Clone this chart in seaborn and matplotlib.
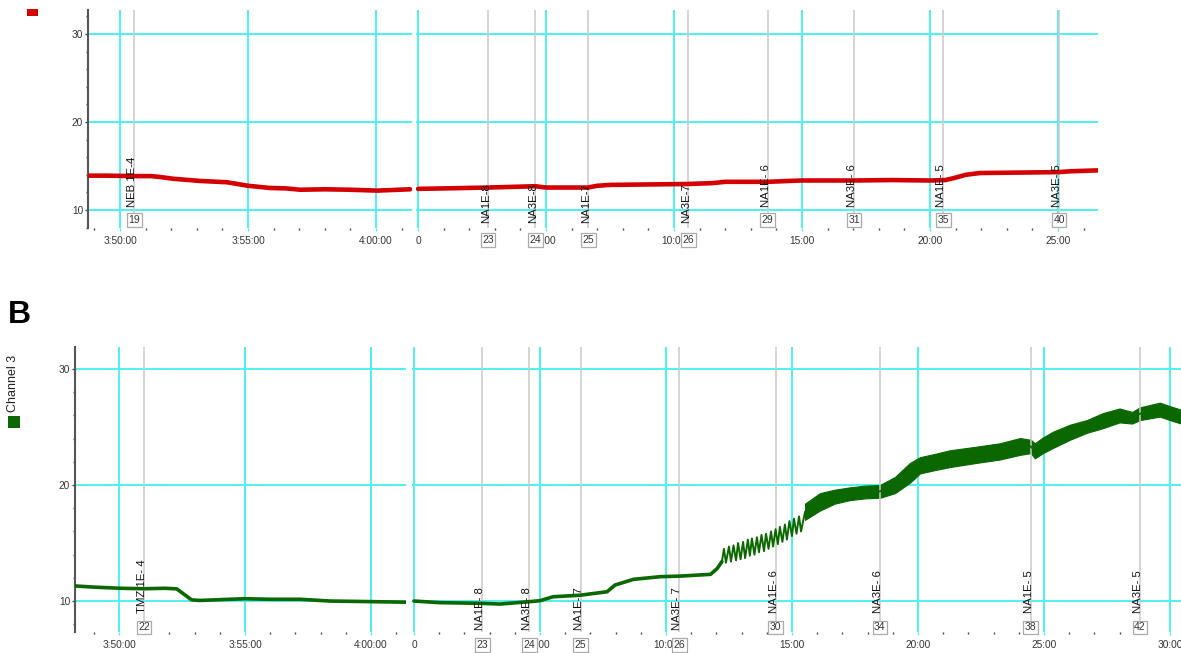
import matplotlib
matplotlib.use("Agg")
import pandas as pd
import matplotlib.pyplot as plt
import seaborn as sns
from matplotlib.patches import Rectangle

# ---------------------------------------------------------------------------
# Recorded traces (time in minutes, signal in channel units)
# ---------------------------------------------------------------------------
# Channel A, first block: minutes after 3:50:00
a1_t = [-1.25, -0.5, 0.55, 1.2, 1.56, 2.07, 3.13, 4.18, 5.0, 5.86, 6.5, 7.03, 8.0, 8.98, 10.04, 11.33]
a1_v = [13.9, 13.9, 13.85, 13.85, 13.75, 13.55, 13.3, 13.15, 12.75, 12.5, 12.45, 12.3, 12.35, 12.3, 12.2, 12.35]

# Channel A, second block: minutes after 0:00
a2_t = [0.0, 1.0, 2.73, 4.0, 4.57, 5.0, 6.64, 7.0, 7.5, 10.5, 11.5, 12.0, 13.67, 14.5, 15.0,
        17.0, 18.5, 20.0, 20.6, 20.9, 21.4, 21.95, 25.0, 25.5, 26.56]
a2_v = [12.4, 12.45, 12.55, 12.65, 12.7, 12.55, 12.55, 12.75, 12.85, 12.95, 13.05, 13.2, 13.2, 13.3, 13.35,
        13.35, 13.4, 13.35, 13.4, 13.6, 14.0, 14.2, 14.3, 14.4, 14.5]

# Channel 3, first block: minutes after 3:50:00
b1_t = [-1.75, -1.0, 0.04, 1.0, 1.83, 2.29, 2.88, 3.21, 5.0, 6.0, 7.18, 8.37, 9.96, 11.39]
b1_v = [11.3, 11.2, 11.1, 11.06, 11.1, 11.05, 10.1, 10.05, 10.2, 10.15, 10.15, 10.0, 9.95, 9.9]

# Channel 3, second block: steady part
b2_t = [0.0, 1.03, 2.7, 3.41, 4.56, 5.0, 5.52, 6.59, 7.66, 7.98, 8.71, 9.78, 10.58, 11.77, 12.03, 12.22]
b2_v = [10.0, 9.86, 9.8, 9.74, 9.94, 10.03, 10.37, 10.5, 10.8, 11.38, 11.87, 12.1, 12.15, 12.3, 12.8, 13.4]

# Channel 3, second block: oscillating onset (troughs and peaks)
b2_saw_t = [12.30, 12.38, 12.50, 12.58, 12.68, 12.78, 12.86, 12.96, 13.06, 13.14, 13.25, 13.33,
            13.41, 13.51, 13.61, 13.69, 13.79, 13.89, 13.97, 14.07, 14.17, 14.25, 14.35, 14.44,
            14.52, 14.62, 14.72, 14.80, 14.90, 15.00, 15.08, 15.18, 15.28, 15.36]
b2_saw_v = [14.5, 13.3, 14.7, 13.4, 14.8, 13.5, 15.0, 13.6, 15.1, 13.7, 15.3, 13.9,
            15.4, 14.0, 15.5, 14.2, 15.7, 14.3, 15.8, 14.5, 16.0, 14.7, 16.2, 14.9,
            16.4, 15.1, 16.6, 15.3, 16.9, 15.6, 17.1, 15.8, 17.3, 16.0]

# Channel 3, second block: fast oscillation envelope (lower / upper)
b2_env_t = [15.52, 16.11, 16.7, 17.30, 17.9, 18.49, 19.09, 19.68, 20.08, 20.7, 21.27, 22.3, 23.25,
            24.05, 24.48, 24.64, 24.96, 25.36, 26.03, 26.7, 27.34, 28.0, 28.5, 28.81, 29.6, 30.0, 30.44]
b2_env_lo = [17.0, 17.8, 18.4, 18.7, 18.85, 18.9, 19.3, 20.2, 21.0, 21.3, 21.55, 21.9, 22.2,
             22.6, 22.75, 22.3, 22.75, 23.2, 23.9, 24.5, 24.9, 25.4, 25.3, 25.6, 25.9, 25.6, 25.3]
b2_env_hi = [18.4, 19.3, 19.6, 19.8, 19.95, 20.0, 20.7, 21.9, 22.4, 22.7, 23.0, 23.3, 23.6,
             24.05, 23.9, 23.6, 24.1, 24.6, 25.2, 25.6, 26.2, 26.6, 26.3, 26.7, 27.1, 26.8, 26.5]

# Event markers: time, label, event number
a1_ev_t = [0.56]
a1_ev_lab = ["NEB 1E-4"]
a1_ev_num = [19]
a2_ev_t = [2.73, 4.58, 6.65, 10.56, 13.66, 17.03, 20.52, 25.04]
a2_ev_lab = ["NA1E-8", "NA3E-8", "NA1E-7", "NA3E-7", "NA1E- 6", "NA3E- 6", "NA1E- 5", "NA3E- 5"]
a2_ev_num = [23, 24, 25, 26, 29, 31, 35, 40]
b1_ev_t = [0.99]
b1_ev_lab = ["TMZ 1E- 4"]
b1_ev_num = [22]
b2_ev_t = [2.71, 4.58, 6.61, 10.53, 14.35, 18.49, 24.48, 28.81]
b2_ev_lab = ["NA1E- 8", "NA3E- 8", "NA1E- 7", "NA3E- 7", "NA1E- 6", "NA3E- 6", "NA1E- 5", "NA3E- 5"]
b2_ev_num = [23, 24, 25, 26, 30, 34, 38, 42]

# Axis ticks and labels
clock_ticks = [0, 5, 10]
clock_labels = ["3:50:00", "3:55:00", "4:00:00"]
run_ticks = [0, 5, 10, 15, 20, 25, 30]
run_labels = ["0", "5:00", "10:00", "15:00", "20:00", "25:00", "30:00"]
y_ticks = [10, 20, 30]
legend_label = "Channel 3"

# ---------------------------------------------------------------------------
sns.set_style("white")
plt.rcParams["font.family"] = ["Liberation Sans", "DejaVu Sans"]

RED = "#d40000"
GREEN = "#0b6700"
CYAN = "#4ff0f0"
EVENT_GRAY = "#c9c9c9"
TXT = "#333333"

W, H = 1181, 653
fig = plt.figure(figsize=(W / 100, H / 100), dpi=100)


def px_axes(x0, y0, x1, y1):
    return fig.add_axes([x0 / W, 1 - y1 / H, (x1 - x0) / W, (y1 - y0) / H])


def style_axes(ax, xlim, ylim, ticks, labels, with_yaxis):
    ax.set_xlabel("")
    ax.set_ylabel("")
    ax.set_facecolor("white")
    for s in ax.spines.values():
        s.set_visible(False)
    shown = [(t, l) for t, l in zip(ticks, labels) if xlim[0] <= t <= xlim[1]]
    ax.set_xticks([t for t, _ in shown])
    ax.set_xticklabels([l for _, l in shown])
    ax.set_xticks([m for m in range(int(xlim[0]) - 1, int(xlim[1]) + 2)
                   if xlim[0] <= m <= xlim[1] and m not in ticks], minor=True)
    ax.tick_params(axis="x", which="major", length=2.5, width=1, color=CYAN,
                   labelsize=7.3, labelcolor=TXT, pad=3.5, bottom=True)
    ax.tick_params(axis="x", which="minor", length=1.5, width=1, color="#444444", bottom=True)
    ax.set_yticks(y_ticks)
    ax.grid(True, which="major", color=CYAN, lw=1.4)
    ax.set_axisbelow(True)
    if with_yaxis:
        ax.spines["left"].set_visible(True)
        ax.spines["left"].set_color("#555555")
        ax.spines["left"].set_linewidth(1.5)
        ax.set_yticks(list(range(8, 33, 2)), minor=True)
        ax.tick_params(axis="y", which="major", length=2.5, width=1, color="#444444",
                       labelsize=7.3, labelcolor=TXT, pad=1, left=True)
        ax.tick_params(axis="y", which="minor", length=1.8, width=1, color="#444444", left=True)
    else:
        ax.tick_params(axis="y", which="both", left=False, labelleft=False)
    ax.set_xlim(*xlim)
    ax.set_ylim(*ylim)


def draw_events(ax, times, labels, nums, text_hi, text_lo, box_hi, box_lo, n_lower=0):
    for i, (t, lab, n) in enumerate(zip(times, labels, nums)):
        lower = i < n_lower
        ax.axvline(t, color=EVENT_GRAY, lw=1.1, zorder=1.5)
        ax.annotate(lab, xy=(t, 0), xycoords=("data", "axes fraction"),
                    xytext=(-2, text_lo if lower else text_hi), textcoords="offset pixels",
                    rotation=90, ha="center", va="bottom", fontsize=8.2, color="#111111",
                    zorder=6, annotation_clip=False)
        ax.annotate(str(n), xy=(t, 0), xycoords=("data", "axes fraction"),
                    xytext=(0, box_lo if lower else box_hi), textcoords="offset pixels",
                    ha="center", va="center", fontsize=7.5, color=TXT, zorder=7,
                    annotation_clip=False,
                    bbox=dict(boxstyle="square,pad=0.15", fc="white", ec="#aaaaaa", lw=0.9))


# ----------------------------- Channel A -----------------------------------
axA1 = px_axes(88, 10, 412, 228)
sns.lineplot(x=a1_t, y=a1_v, ax=axA1, color=RED, lw=3.3, errorbar=None, legend=False, zorder=4)
style_axes(axA1, (-1.25, 11.406), (7.95, 32.73), clock_ticks, clock_labels, True)
draw_events(axA1, a1_ev_t, a1_ev_lab, a1_ev_num, 21, 5, 8, -12)

axA2 = px_axes(416, 10, 1098, 228)
sns.lineplot(x=a2_t, y=a2_v, ax=axA2, color=RED, lw=3.3, errorbar=None, legend=False, zorder=4)
style_axes(axA2, (-0.08, 26.56), (7.95, 32.73), run_ticks, run_labels, False)
draw_events(axA2, a2_ev_t, a2_ev_lab, a2_ev_num, 21, 5, 8, -12, n_lower=4)

# ----------------------------- Channel 3 -----------------------------------
axB1 = px_axes(75, 347, 406, 632)
sns.lineplot(x=b1_t, y=b1_v, ax=axB1, color=GREEN, lw=2.6, errorbar=None, legend=False, zorder=4)
style_axes(axB1, (-1.746, 11.389), (7.33, 31.9), clock_ticks, clock_labels, True)
draw_events(axB1, b1_ev_t, b1_ev_lab, b1_ev_num, 19, 2, 4.5, -13)

axB2 = px_axes(412, 347, 1181, 632)
sns.lineplot(x=b2_t, y=b2_v, ax=axB2, color=GREEN, lw=2.6, errorbar=None, legend=False, zorder=4)
osc = pd.concat([
    pd.DataFrame({"t": b2_t[-1:] + b2_saw_t, "v": b2_v[-1:] + b2_saw_v}),
    pd.DataFrame({"t": b2_env_t, "v": b2_env_lo}),
    pd.DataFrame({"t": b2_env_t, "v": b2_env_hi}),
], ignore_index=True)
sns.lineplot(data=osc, x="t", y="v", ax=axB2, color=GREEN, lw=1.4, estimator="mean",
             errorbar=("pi", 100), err_kws={"alpha": 1.0, "linewidth": 0.8},
             legend=False, zorder=4)
style_axes(axB2, (-0.08, 30.44), (7.33, 31.9), run_ticks, run_labels, False)
draw_events(axB2, b2_ev_t, b2_ev_lab, b2_ev_num, 19, 2, 4.5, -13, n_lower=4)

# ----------------------------- panel decorations ---------------------------
fig.patches.append(Rectangle((27 / W, 1 - 16 / H), 11 / W, 7 / H, transform=fig.transFigure,
                             fc=RED, ec="none"))
fig.patches.append(Rectangle((8 / W, 1 - 428 / H), 12 / W, 12 / H, transform=fig.transFigure,
                             fc=GREEN, ec="none"))
fig.text(13.5 / W, 1 - 412 / H, legend_label, rotation=90, ha="center", va="bottom",
         fontsize=9, color="#222222")
fig.text(8 / W, 1 - 323 / H, "B", fontsize=23, fontweight="bold", ha="left", va="baseline",
         color="black")

fig.savefig("out.png", dpi=100, facecolor="white")
